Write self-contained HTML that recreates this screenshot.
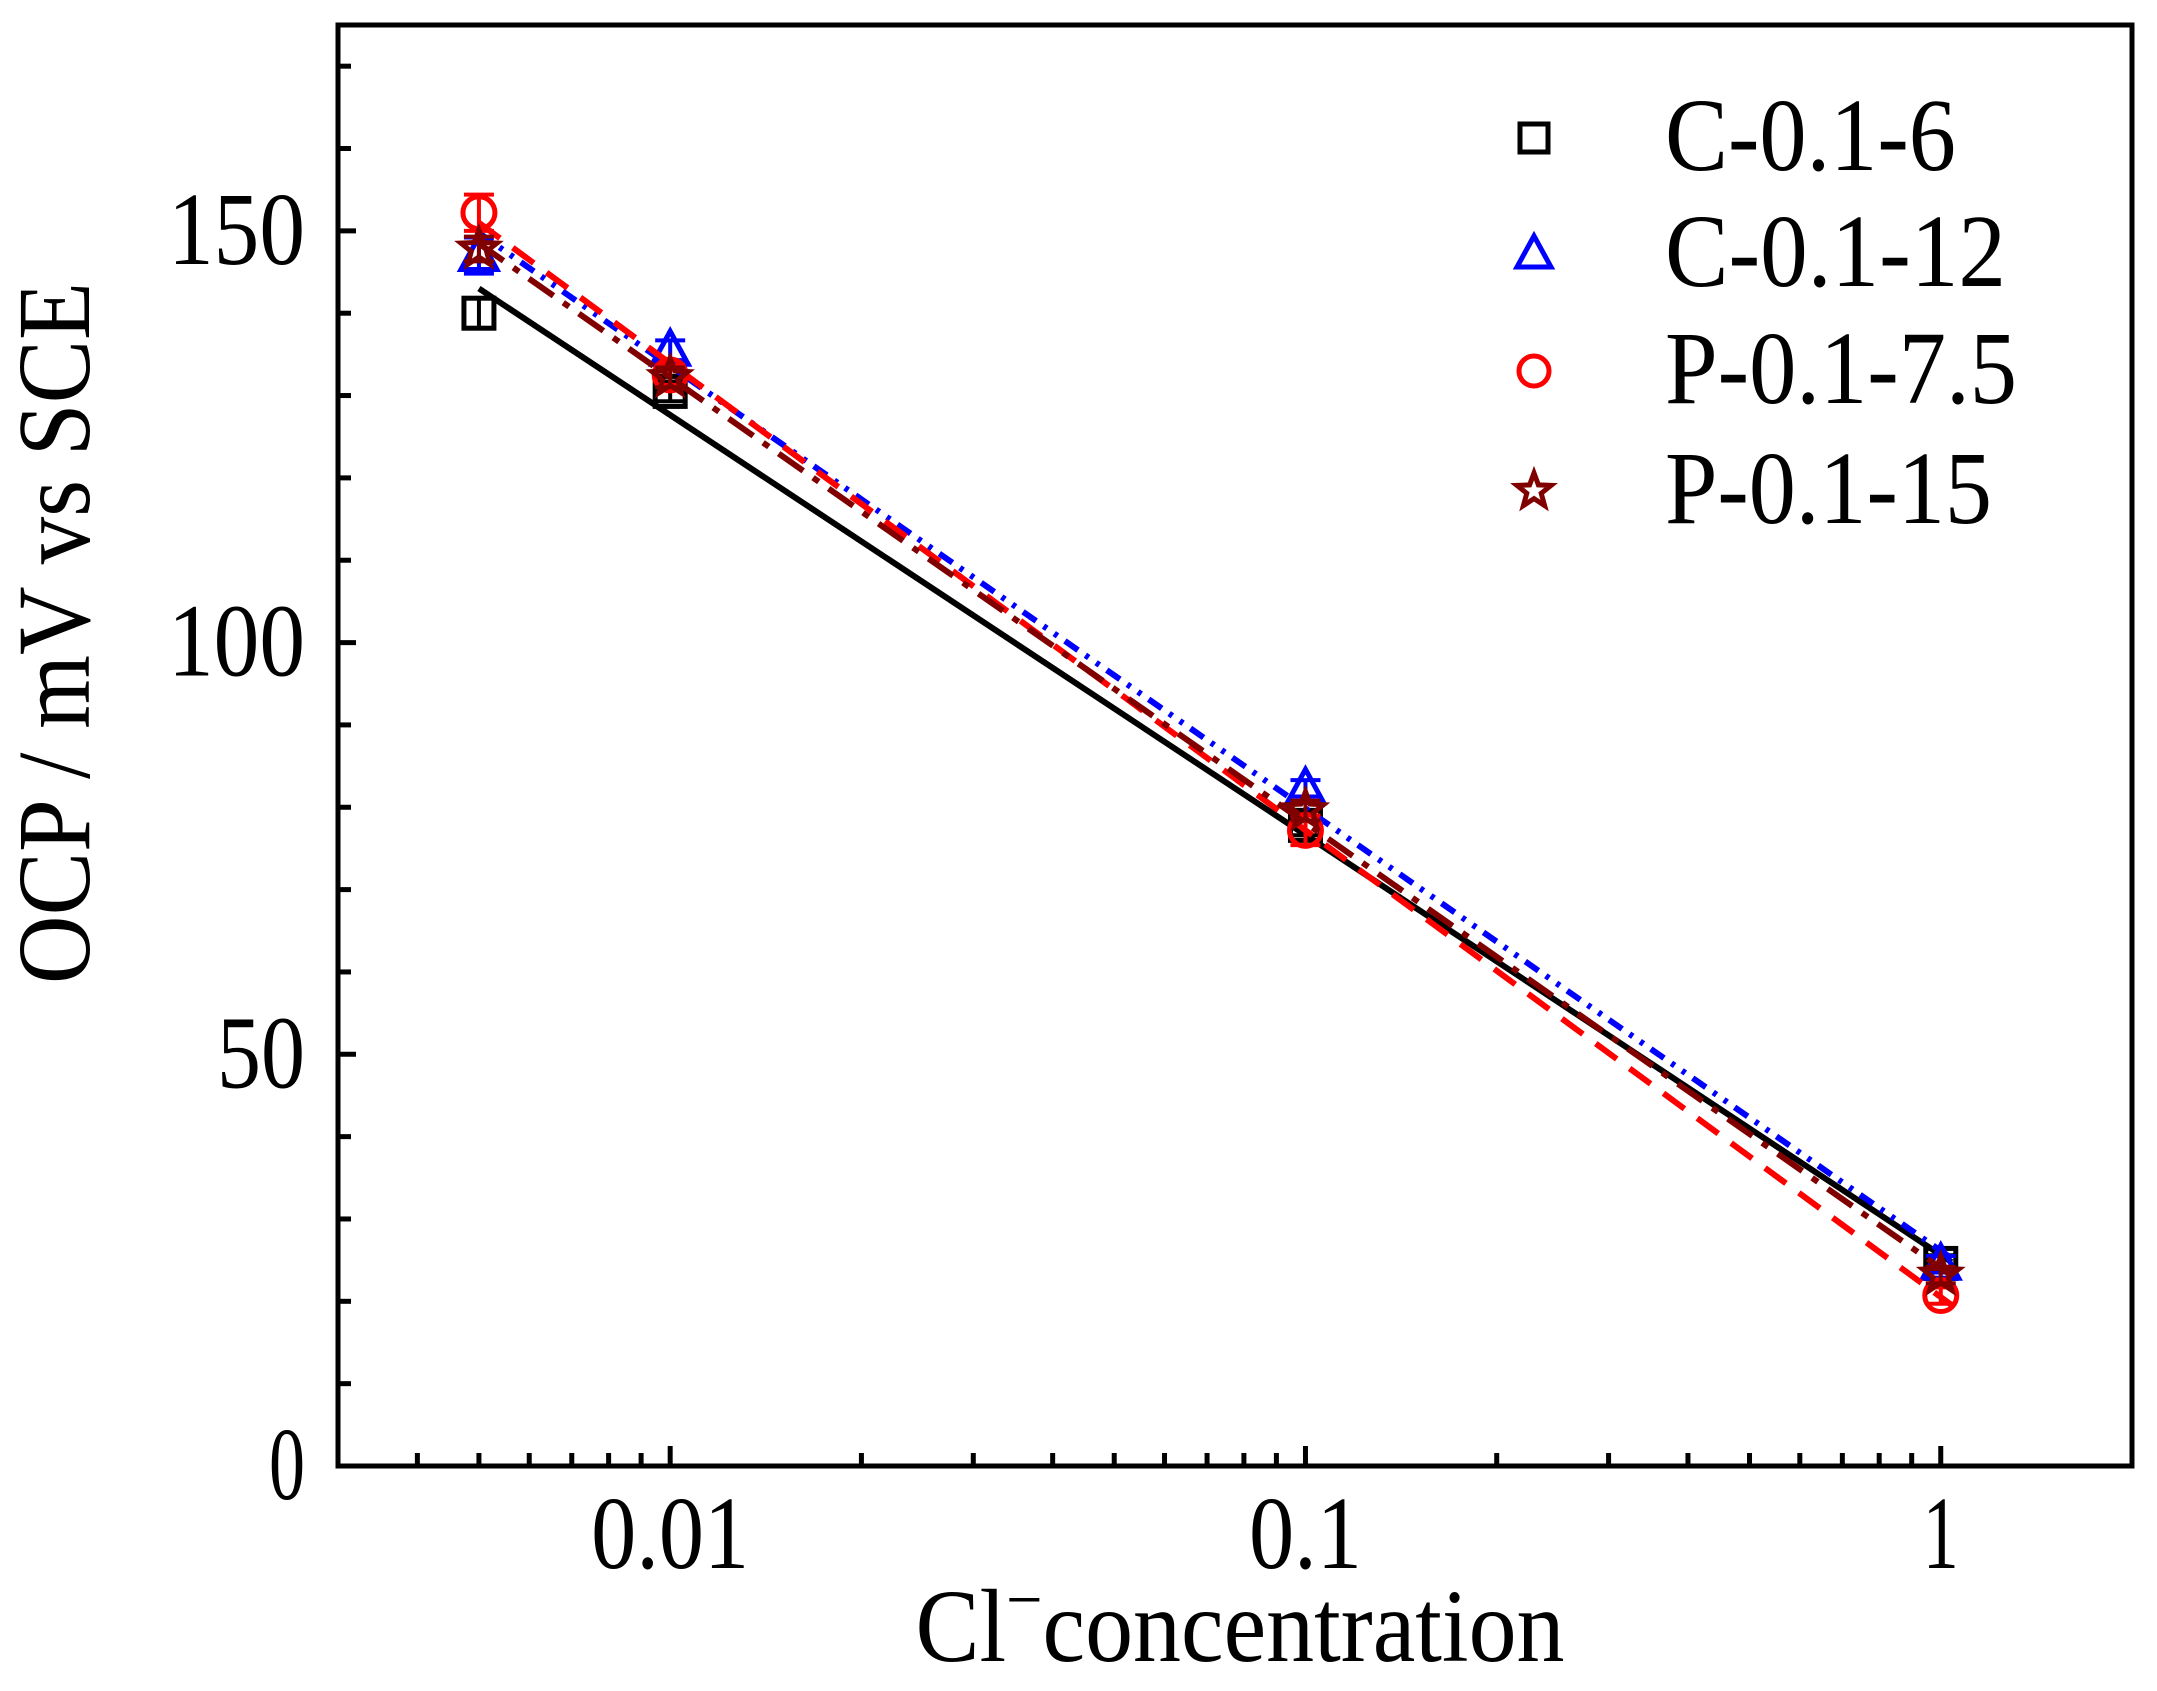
<!DOCTYPE html>
<html><head><meta charset="utf-8"><style>
html,body{margin:0;padding:0;background:#fff;}
svg{display:block;font-family:"Liberation Serif",serif;}
</style></head><body>
<svg id="chart" width="2157" height="1691" viewBox="0 0 2157 1691" xmlns="http://www.w3.org/2000/svg">
<rect x="338" y="25" width="1794" height="1441" fill="none" stroke="#000" stroke-width="5"/>
<g id="ticks"></g>
<g id="series"></g>
<text x="1240" y="1661" font-size="104" text-anchor="middle" textLength="649" lengthAdjust="spacingAndGlyphs">Cl<tspan baseline-shift="super" font-size="70">−</tspan>concentration</text>
<text transform="translate(89,633) rotate(-90)" font-size="104" text-anchor="middle" textLength="702" lengthAdjust="spacingAndGlyphs">OCP / mV vs SCE</text>
<g id="legend"></g>
</svg>
<script>
const xValues = [0.005, 0.01, 0.1, 1];
const seriesNames = ["C-0.1-6", "C-0.1-12", "P-0.1-7.5", "P-0.1-15"];
const c6 = [140, 130.5, 77.8, 24.6];
const c12 = [147, 135.5, 82.3, 24.5];
const p75 = [152.2, 132.5, 77.2, 20.7];
const p15 = [147.8, 132.2, 79.6, 23.2];
const c6Err = [1.8, 1.2, 1.2, 1];
const c12Err = [2.2, 1.2, 1, 1];
const p75Err = [2.2, 1.2, 1.8, 1];
const p15Err = [1.5, 1.2, 1.2, 1];
const yTickLabels = ["0", "50", "100", "150"];
const yTickValues = [0, 50, 100, 150];
const xTickLabels = ["0.01", "0.1", "1"];
const xTickValues = [0.01, 0.1, 1];

const NS = "http://www.w3.org/2000/svg";
const X0 = 338, X1 = 2132, Y0 = 1466, Y1 = 25;
const LX0 = Math.log10(0.003), LX1 = Math.log10(2.0);
function xs(v){ return X0 + (Math.log10(v) - LX0) / (LX1 - LX0) * (X1 - X0); }
function ys(v){ return Y0 - v / 175 * (Y0 - Y1); }
function mk(tag, attrs, parent){ const e = document.createElementNS(NS, tag); for (const k in attrs) e.setAttribute(k, attrs[k]); parent.appendChild(e); return e; }

const ticks = document.getElementById('ticks');
for (let v = 0; v <= 170; v += 10) {
  const t = mk('line', {x1: X0, x2: X0 + (v % 50 === 0 ? 18 : 13), y1: ys(v), y2: ys(v), stroke: '#000', 'stroke-width': 5}, ticks);
  
  
}
const yW = {"0": 36, "50": 88, "100": 137, "150": 137};
yTickValues.forEach((v, i) => {
  const t = mk('text', {x: 305, y: ys(v) + 33, 'font-size': 104, 'text-anchor': 'end', textLength: yW[yTickLabels[i]] || 137, lengthAdjust: 'spacingAndGlyphs'}, ticks);
  t.textContent = yTickLabels[i];
  
  
});
for (let d = -3; d <= 0; d++) {
  for (let m = 1; m <= 9; m++) {
    const v = m * Math.pow(10, d);
    if (v < 0.003 || v > 2) continue;
    const t = mk('line', {x1: xs(v), x2: xs(v), y1: Y0, y2: Y0 - (m === 1 ? 20 : 13), stroke: '#000', 'stroke-width': 5}, ticks);
    
    
  }
}
const xW = {"0.01": 158, "0.1": 113, "1": 36};
xTickValues.forEach((v, i) => {
  const t = mk('text', {x: xs(v), y: 1568, 'font-size': 104, 'text-anchor': 'middle', textLength: xW[xTickLabels[i]], lengthAdjust: 'spacingAndGlyphs'}, ticks);
  t.textContent = xTickLabels[i];
  
  
});

const colors = ["#000000", "#0000ff", "#ff0000", "#800000"];
const dashes = ["none", "16 9 4 9 4 9", "26 16", "30 12 7 12"];
const shapes = ["square", "triangle", "circle", "star"];
const allY = [c6, c12, p75, p15];
const allErr = [c6Err, c12Err, p75Err, p15Err];

function marker(shape, cx, cy, color, parent, s){
  s = s || 15;
  if (shape === 'square') return mk('rect', {x: cx - s, y: cy - s, width: 2*s, height: 2*s, fill: 'none', stroke: color, 'stroke-width': 5}, parent);
  if (shape === 'circle') return mk('circle', {cx: cx, cy: cy, r: s + 1, fill: 'none', stroke: color, 'stroke-width': 5}, parent);
  if (shape === 'triangle') return mk('polygon', {points: `${cx},${cy - s - 4} ${cx - s - 3},${cy + s - 1} ${cx + s + 3},${cy + s - 1}`, fill: 'none', stroke: color, 'stroke-width': 5}, parent);
  let pts = [];
  for (let k = 0; k < 10; k++) {
    const r = k % 2 === 0 ? s + 4 : (s + 4) * 0.42;
    const a = -Math.PI / 2 + k * Math.PI / 5;
    pts.push((cx + r * Math.cos(a)).toFixed(1) + ',' + (cy + r * Math.sin(a)).toFixed(1));
  }
  return mk('polygon', {points: pts.join(' '), fill: 'none', stroke: color, 'stroke-width': 5}, parent);
}

const sg = document.getElementById('series');
allY.forEach((ys_, si) => {
  const g = mk('g', {}, sg);
  
  
  const lx = xValues.map(v => Math.log10(v));
  const n = lx.length;
  const mx = lx.reduce((a, b) => a + b) / n, my = ys_.reduce((a, b) => a + b) / n;
  let sxy = 0, sxx = 0;
  for (let i = 0; i < n; i++) { sxy += (lx[i] - mx) * (ys_[i] - my); sxx += (lx[i] - mx) ** 2; }
  const b = sxy / sxx, a = my - b * mx;
  const xa = xValues[0], xb = xValues[n - 1] * 1.04;
  const fl = mk('line', {x1: xs(xa), y1: ys(a + b * Math.log10(xa)), x2: xs(xb), y2: ys(a + b * Math.log10(xb)), stroke: colors[si], 'stroke-width': 6, 'stroke-dasharray': dashes[si]}, g);
  
  
  xValues.forEach((xv, i) => {
    const cx = xs(xv), cy = ys(ys_[i]);
    const e = allErr[si][i];
    const eb = mk('path', {d: `M${cx},${ys(ys_[i] + e)}V${ys(ys_[i] - e)}M${cx - 15},${ys(ys_[i] + e)}h30M${cx - 15},${ys(ys_[i] - e)}h30`, stroke: colors[si], 'stroke-width': 4, fill: 'none'}, g);
    
    
    const m = marker(shapes[si], cx, cy, colors[si], g);
    
    
  });
});

const lg = document.getElementById('legend');
const legendW = [291, 341, 352, 327];
const rowY = [138, 254, 371, 491];
seriesNames.forEach((nm, i) => {
  const g = mk('g', {}, lg);
  
  
  marker(shapes[i], 1534, rowY[i], colors[i], g, 14);
  const t = mk('text', {x: 1665, y: rowY[i] + 32, 'font-size': 104, textLength: legendW[i], lengthAdjust: 'spacingAndGlyphs'}, g);
  t.textContent = nm;
});
</script>
</body></html>
